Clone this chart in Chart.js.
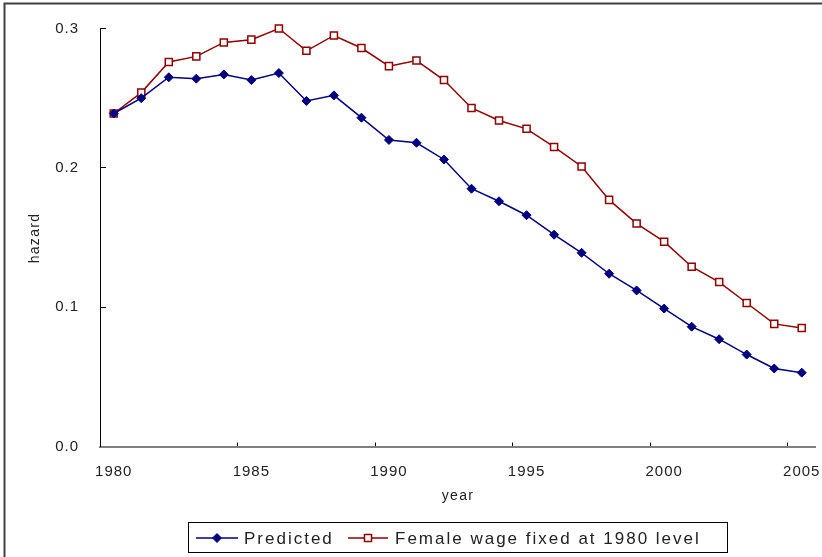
<!DOCTYPE html>
<html>
<head>
<meta charset="utf-8">
<script src="https://cdn.jsdelivr.net/npm/chart.js@4/dist/chart.umd.min.js"></script>
<style>
	body { margin: 0; background: #fff; }
	canvas { display: block; background: #fff; }
</style>
</head>
<body>
<canvas id="chart" width="822" height="557"></canvas>
<script>
// Data
const years = ['1980', '1981', '1982', '1983', '1984', '1985', '1986', '1987', '1988', '1989',
	'1990', '1991', '1992', '1993', '1994', '1995', '1996', '1997', '1998', '1999',
	'2000', '2001', '2002', '2003', '2004', '2005']

const predicted = [0.239, 0.250, 0.265, 0.264, 0.267, 0.263, 0.268, 0.248, 0.252, 0.236,
	0.220, 0.218, 0.206, 0.185, 0.176, 0.166, 0.152, 0.139, 0.124, 0.112,
	0.099, 0.086, 0.077, 0.066, 0.056, 0.053]

const fixed1980 = [0.239, 0.254, 0.276, 0.280, 0.290, 0.292, 0.300, 0.284, 0.295, 0.286,
	0.273, 0.277, 0.263, 0.243, 0.234, 0.228, 0.215, 0.201, 0.177, 0.160,
	0.147, 0.129, 0.118, 0.103, 0.088, 0.085]

const yTicks = [0, 0.1, 0.2, 0.3]

const FONT = '"Liberation Sans", Arial, sans-serif'
const BLUE = '#000080'
const RED = '#900000'

// frame, axis titles and boxed legend
const decorations = {
	id: 'decorations',
	beforeDraw(chart) {
		chart.ctx.letterSpacing = '1px'
	},
	afterDraw(chart) {
		const ctx = chart.ctx
		ctx.save()

		// outer frame (left and top edges only visible)
		ctx.strokeStyle = '#404040'
		ctx.lineWidth = 2
		ctx.beginPath()
		ctx.moveTo(4.5, 560)
		ctx.lineTo(4.5, 3.5)
		ctx.lineTo(830, 3.5)
		ctx.stroke()

		// axis titles
		ctx.fillStyle = '#222'
		ctx.letterSpacing = '1.3px'
		ctx.font = '14px ' + FONT
		ctx.textAlign = 'center'
		ctx.textBaseline = 'middle'
		ctx.fillText('year', 458, 496)

		ctx.save()
		ctx.translate(35, 238)
		ctx.rotate(-Math.PI / 2)
		ctx.fillText('hazard', 0, 0)
		ctx.restore()

		// legend
		ctx.strokeStyle = '#000'
		ctx.lineWidth = 1
		ctx.strokeRect(188.5, 522.5, 539, 30)

		ctx.letterSpacing = '2px'
		ctx.font = '17px ' + FONT
		ctx.textAlign = 'left'
		const items = [
			{ ds: chart.data.datasets[0], x0: 196, x1: 238, tx: 244 },
			{ ds: chart.data.datasets[1], x0: 348, x1: 388, tx: 395 },
		]
		const ly = 538
		items.forEach(it => {
			ctx.strokeStyle = it.ds.borderColor
			ctx.lineWidth = it.ds.borderWidth
			ctx.beginPath()
			ctx.moveTo(it.x0, ly)
			ctx.lineTo(it.x1, ly)
			ctx.stroke()

			ctx.fillStyle = it.ds.pointBackgroundColor
			ctx.strokeStyle = it.ds.pointBorderColor
			ctx.lineWidth = it.ds.pointBorderWidth
			Chart.helpers.drawPoint(ctx, {
				pointStyle: it.ds.pointStyle,
				radius: it.ds.pointRadius,
				rotation: 0,
				borderWidth: it.ds.pointBorderWidth,
			}, (it.x0 + it.x1) / 2, ly)

			ctx.fillStyle = '#222'
			ctx.fillText(it.ds.label, it.tx, ly + 1)
		})

		ctx.restore()
	},
}

new Chart(document.getElementById('chart'), {
	type: 'line',
	data: {
		labels: years,
		datasets: [
			{
				label: 'Predicted',
				data: predicted,
				borderColor: BLUE,
				borderWidth: 1.5,
				pointStyle: 'rectRot',
				pointRadius: 4.5,
				pointBackgroundColor: BLUE,
				pointBorderColor: BLUE,
				pointBorderWidth: 1,
				tension: 0,
				clip: false,
			},
			{
				label: 'Female wage fixed at 1980 level',
				data: fixed1980,
				borderColor: RED,
				borderWidth: 1.5,
				pointStyle: 'rect',
				pointRadius: 5,
				pointBackgroundColor: '#fff',
				pointBorderColor: RED,
				pointBorderWidth: 1.5,
				tension: 0,
				clip: false,
			},
		],
	},
	options: {
		responsive: false,
		animation: false,
		layout: {
			padding: { top: 28.5, right: 5, left: 0, bottom: 0 },
		},
		plugins: {
			legend: { display: false },
			tooltip: { enabled: false },
		},
		scales: {
			x: {
				offset: true,
				grid: {
					offset: true,
					drawOnChartArea: false,
					tickLength: -4,
					lineWidth: 1,
					color: ctx => (ctx.index % 5 === 0 ? '#000' : 'rgba(0,0,0,0)'),
				},
				border: { color: '#808080', width: 2 },
				ticks: {
					autoSkip: false,
					maxRotation: 0,
					padding: 20,
					color: '#222',
					font: { size: 15, family: FONT },
					callback: (v, i) => (i % 5 === 0 ? years[i] : ''),
				},
				afterFit: scale => {
					scale.height = 110.5
					scale.paddingLeft = 0
					scale.paddingRight = 0
				},
			},
			y: {
				min: yTicks[0],
				max: yTicks[yTicks.length - 1],
				afterBuildTicks: scale => {
					scale.ticks = yTicks.map(v => ({ value: v }))
				},
				grid: {
					drawOnChartArea: false,
					tickLength: -6,
					color: '#000',
				},
				border: { color: '#000', width: 1 },
				ticks: {
					padding: 27,
					color: '#222',
					font: { size: 15, family: FONT },
					callback: v => v.toFixed(1),
				},
				afterFit: scale => {
					scale.width = 100
					scale.paddingTop = 0
					scale.paddingBottom = 0
				},
			},
		},
	},
	plugins: [decorations],
})
</script>
</body>
</html>
